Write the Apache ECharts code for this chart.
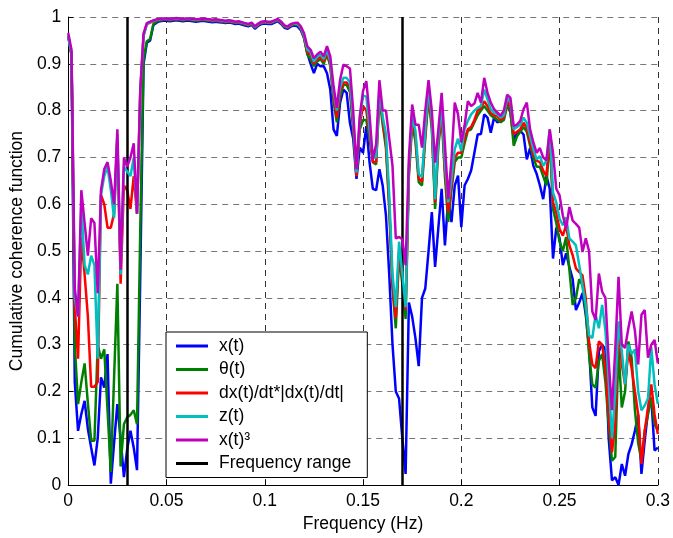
<!DOCTYPE html>
<html>
<head>
<meta charset="utf-8">
<script src="https://cdn.jsdelivr.net/npm/echarts@6/dist/echarts.min.js"></script>
<style>html,body{margin:0;padding:0;background:#fff}#c{width:673px;height:538px}</style>
</head>
<body>
<div id="c"></div>
<script>
// Frequency resolution of the spectra (Hz)
const freqStep = 1 / 600;
const rangeLines = [0.03, 0.17];
const seriesNames = ['x(t)', 'θ(t)', 'dx(t)/dt*|dx(t)/dt|', 'z(t)', 'x(t)³', 'Frequency range'];

const xt = [
0.96,0.92,0.22,0.116,0.152,0.18,0.12,0.08,0.042,0.10,0.23,0.208,0.28,0.003,0.09,0.173,0.10,0.017,0.077,0.116,0.08,0.032,0.45,0.90,0.945,
0.95,0.983,0.988,0.991,0.992,0.992,0.991,0.992,0.993,0.992,0.991,0.992,0.992,0.991,0.99,0.991,0.992,0.991,0.99,0.989,0.99,0.989,0.988,0.987,0.988,
0.987,0.985,0.986,0.984,0.982,0.98,0.983,0.975,0.981,0.985,0.986,0.985,0.985,0.988,0.991,0.985,0.977,0.975,0.98,0.982,
0.98,0.972,0.955,0.923,0.90,0.88,0.90,0.895,0.895,0.88,0.845,0.76,0.746,0.817,0.845,0.838,0.774,0.74,0.654,0.721,0.71,0.767,0.689,0.633,0.63,0.675,0.64,0.576,0.45,0.30,0.20,0.185,0.10,0.024,0.39,
0.36,0.314,0.254,0.40,0.42,0.50,0.583,0.466,0.55,0.633,0.512,0.611,0.562,0.64,0.661,0.551,0.64,0.654,0.672,0.71,0.749,0.75,0.792,0.785,0.753,0.785,0.775,0.778,0.79,0.813,0.796,0.739,0.75,0.757,0.749,0.696,0.72,0.682,0.665,0.64,0.611,0.66,0.633,
0.484,0.55,0.527,0.47,0.495,0.466,0.44,0.374,0.39,0.41,0.364,0.293,0.166,0.148,0.286,0.30,0.29,0.10,0.01,0.017,0.0,0.045,0.02,0.066,0.087,0.116,0.15,0.024,0.095,0.158,0.187,0.074,0.08
];
const theta = [
0.96,0.92,0.30,0.173,0.22,0.26,0.175,0.095,0.095,0.30,0.27,0.29,0.16,0.028,0.23,0.43,0.04,0.13,0.145,0.15,0.16,0.13,0.55,0.91,0.948,
0.953,0.985,0.99,0.993,0.994,0.994,0.993,0.994,0.995,0.994,0.993,0.994,0.994,0.993,0.992,0.993,0.994,0.993,0.992,0.991,0.992,0.991,0.99,0.989,0.99,
0.989,0.987,0.988,0.986,0.984,0.982,0.985,0.977,0.983,0.987,0.988,0.987,0.987,0.99,0.993,0.987,0.979,0.977,0.982,0.984,
0.983,0.975,0.955,0.92,0.91,0.895,0.905,0.91,0.90,0.92,0.895,0.82,0.775,0.83,0.855,0.855,0.84,0.76,0.66,0.76,0.78,0.78,0.74,0.69,0.685,0.83,0.77,0.72,0.59,0.42,0.335,0.49,0.43,0.355,0.66,
0.77,0.735,0.647,0.64,0.74,0.83,0.76,0.59,0.725,0.79,0.66,0.562,0.63,0.69,0.70,0.70,0.73,0.757,0.76,0.775,0.79,0.80,0.81,0.80,0.79,0.785,0.78,0.775,0.78,0.81,0.80,0.725,0.745,0.755,0.765,0.755,0.725,0.70,0.68,0.68,0.66,0.64,0.745,
0.59,0.56,0.52,0.50,0.53,0.46,0.385,0.40,0.44,0.427,0.371,0.28,0.215,0.208,0.265,0.28,0.22,0.13,0.052,0.06,0.293,0.166,0.20,0.307,0.272,0.16,0.09,0.052,0.116,0.151,0.187,0.13,0.116
];
const dxdt = [
0.96,0.92,0.38,0.27,0.53,0.45,0.36,0.21,0.21,0.22,0.62,0.60,0.55,0.55,0.58,0.74,0.43,0.64,0.63,0.59,0.66,0.58,0.84,0.96,0.985,
0.988,0.991,0.993,0.994,0.995,0.995,0.994,0.995,0.996,0.995,0.994,0.995,0.995,0.994,0.993,0.994,0.995,0.994,0.993,0.992,0.993,0.992,0.991,0.99,0.991,
0.99,0.988,0.989,0.987,0.985,0.983,0.986,0.978,0.984,0.988,0.989,0.988,0.988,0.991,0.994,0.988,0.98,0.978,0.983,0.985,
0.985,0.977,0.958,0.925,0.92,0.90,0.91,0.915,0.905,0.925,0.90,0.83,0.785,0.84,0.86,0.86,0.85,0.77,0.66,0.77,0.81,0.80,0.75,0.69,0.69,0.84,0.78,0.73,0.60,0.43,0.356,0.50,0.44,0.375,0.67,
0.78,0.745,0.655,0.648,0.75,0.84,0.77,0.604,0.735,0.80,0.675,0.583,0.64,0.70,0.71,0.71,0.74,0.76,0.765,0.78,0.80,0.805,0.82,0.81,0.795,0.79,0.787,0.78,0.785,0.82,0.81,0.75,0.755,0.76,0.774,0.763,0.732,0.707,0.693,0.69,0.672,0.66,0.753,
0.604,0.582,0.547,0.533,0.555,0.512,0.491,0.463,0.455,0.448,0.399,0.307,0.258,0.25,0.307,0.30,0.25,0.15,0.07,0.13,0.343,0.258,0.215,0.286,0.25,0.20,0.151,0.045,0.116,0.166,0.215,0.151,0.109
];
const zt = [
0.96,0.92,0.40,0.36,0.60,0.47,0.45,0.49,0.47,0.27,0.62,0.66,0.68,0.63,0.57,0.75,0.45,0.68,0.67,0.66,0.70,0.58,0.84,0.96,0.985,
0.989,0.992,0.994,0.995,0.996,0.996,0.995,0.996,0.997,0.996,0.995,0.996,0.996,0.995,0.994,0.995,0.996,0.995,0.994,0.993,0.994,0.993,0.992,0.991,0.992,
0.991,0.989,0.99,0.988,0.986,0.984,0.987,0.979,0.985,0.989,0.99,0.989,0.989,0.992,0.995,0.989,0.981,0.979,0.984,0.986,
0.985,0.978,0.96,0.93,0.925,0.905,0.915,0.92,0.91,0.93,0.905,0.84,0.80,0.85,0.87,0.87,0.86,0.78,0.668,0.78,0.832,0.83,0.76,0.70,0.70,0.84,0.787,0.75,0.62,0.45,0.38,0.52,0.45,0.38,0.68,
0.788,0.757,0.665,0.658,0.76,0.849,0.78,0.611,0.745,0.81,0.689,0.604,0.654,0.718,0.74,0.714,0.76,0.778,0.792,0.80,0.806,0.81,0.845,0.824,0.803,0.796,0.792,0.785,0.79,0.827,0.82,0.76,0.765,0.77,0.785,0.774,0.746,0.718,0.696,0.703,0.682,0.693,0.76,
0.625,0.604,0.569,0.555,0.572,0.527,0.52,0.512,0.47,0.427,0.385,0.32,0.314,0.364,0.335,0.385,0.33,0.22,0.10,0.20,0.35,0.286,0.215,0.30,0.28,0.29,0.20,0.16,0.17,0.185,0.294,0.215,0.173
];
const xt3 = [
0.966,0.93,0.42,0.36,0.63,0.56,0.49,0.57,0.56,0.41,0.63,0.675,0.69,0.65,0.60,0.76,0.46,0.70,0.68,0.70,0.73,0.58,0.845,0.965,0.987,
0.99,0.993,0.995,0.996,0.997,0.997,0.996,0.997,0.998,0.997,0.996,0.997,0.997,0.996,0.995,0.996,0.997,0.996,0.995,0.994,0.995,0.994,0.993,0.992,0.993,
0.992,0.99,0.991,0.989,0.987,0.985,0.988,0.98,0.986,0.99,0.991,0.99,0.99,0.993,0.996,0.99,0.982,0.98,0.985,0.987,
0.988,0.98,0.965,0.937,0.93,0.912,0.92,0.926,0.916,0.938,0.916,0.852,0.806,0.866,0.898,0.895,0.89,0.80,0.675,0.788,0.842,0.863,0.79,0.696,0.728,0.865,0.80,0.80,0.74,0.682,0.527,0.53,0.525,0.47,0.70,
0.813,0.77,0.77,0.721,0.80,0.865,0.80,0.689,0.76,0.838,0.728,0.611,0.696,0.817,0.792,0.732,0.768,0.82,0.81,0.815,0.838,0.817,0.87,0.838,0.817,0.803,0.796,0.789,0.80,0.834,0.827,0.767,0.77,0.778,0.803,0.817,0.76,0.732,0.71,0.72,0.70,0.693,0.76,
0.71,0.633,0.619,0.576,0.548,0.594,0.565,0.558,0.55,0.498,0.527,0.50,0.371,0.353,0.452,0.413,0.40,0.265,0.16,0.29,0.445,0.30,0.293,0.335,0.371,0.33,0.258,0.364,0.374,0.272,0.30,0.31,0.26
];

const freqs = xt.map((_, i) => i * freqStep);
const pairs = arr => arr.map((v, i) => [freqs[i], v]);
const FONT = "'Liberation Sans', Arial, Helvetica, sans-serif";
const FS = 17.5;
const colors = ['#0000ff', '#008000', '#ff0000', '#00bfbf', '#bf00bf', '#000000'];
const allData = [xt, theta, dxdt, zt, xt3];

const series = allData.map((d, k) => ({
  name: seriesNames[k], type: 'line', data: pairs(d), showSymbol: false, symbol: 'none',
  lineStyle: { color: colors[k], width: 2.5 }, itemStyle: { color: colors[k] },
  animation: false, z: 2 + k
}));
series.push({
  name: seriesNames[5], type: 'line', data: [], symbol: 'none',
  lineStyle: { color: '#000', width: 2.5 }, itemStyle: { color: '#000' }, z: 10,
  markLine: { silent: true, symbol: 'none', animation: false, label: { show: false },
    lineStyle: { color: '#000', width: 2.5, type: 'solid' },
    data: rangeLines.map(v => ({ xAxis: v })) }
});

const chart = echarts.init(document.getElementById('c'));
chart.setOption({
  animation: false,
  backgroundColor: '#fff',
  grid: { left: 66, right: 8, top: 17, bottom: 50 },
  xAxis: {
    type: 'value', min: 0, max: 0.3, interval: 0.05,
    name: 'Frequency (Hz)', nameLocation: 'middle', nameGap: 29,
    nameTextStyle: { fontFamily: FONT, fontSize: FS, color: '#000' },
    axisLine: { show: true, lineStyle: { color: '#000', width: 1 } },
    axisTick: { show: true, inside: true, length: 5, lineStyle: { color: '#000' } },
    axisLabel: { fontFamily: FONT, fontSize: FS, color: '#000', margin: 7,
      formatter: v => String(+v.toFixed(2)) },
    splitLine: { show: true, lineStyle: { color: '#333', type: [6, 5], width: 1 } }
  },
  yAxis: {
    type: 'value', min: 0, max: 1, interval: 0.1,
    name: 'Cumulative coherence function', nameLocation: 'middle', nameGap: 37,
    nameTextStyle: { fontFamily: FONT, fontSize: FS, color: '#000' },
    axisLine: { show: true, lineStyle: { color: '#000', width: 1 } },
    axisTick: { show: true, inside: true, length: 5, lineStyle: { color: '#000' } },
    axisLabel: { fontFamily: FONT, fontSize: FS, color: '#000', margin: 7,
      formatter: v => String(+v.toFixed(1)) },
    splitLine: { show: true, lineStyle: { color: '#777', type: [6, 5], width: 1.2 } }
  },
  legend: {
    show: true, orient: 'vertical', left: 166, top: 332,
    data: seriesNames,
    backgroundColor: '#fff', borderColor: '#000', borderWidth: 1,
    padding: [4, 16, 4, 10], itemWidth: 32, itemHeight: 3, itemGap: 3.5, icon: 'rect',
    textStyle: { fontFamily: FONT, fontSize: FS, color: '#000', lineHeight: 20, padding: [0, 0, 0, 6] }
  },
  series: series
});
</script>
</body>
</html>
